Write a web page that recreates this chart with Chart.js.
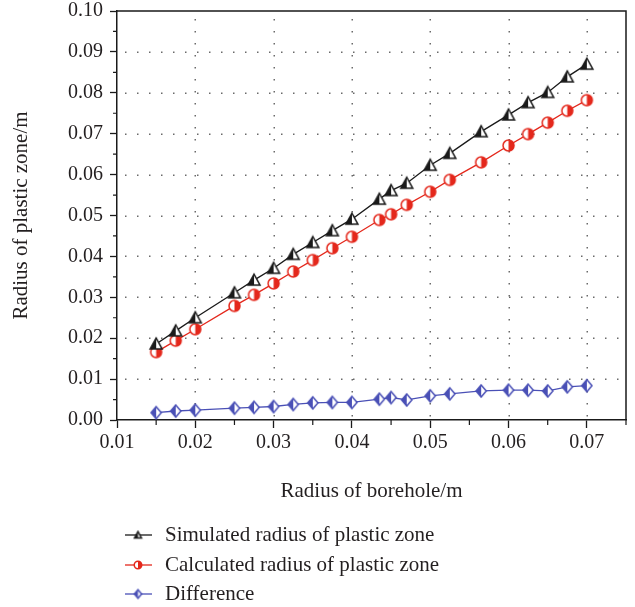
<!DOCTYPE html>
<html>
<head>
<meta charset="utf-8">
<script src="https://cdn.jsdelivr.net/npm/chart.js@4"></script>
<style>
  html, body { margin: 0; padding: 0; background: #fff; }
  #wrap { width: 635px; height: 607px; position: relative; }
</style>
</head>
<body>
<div id="wrap"><canvas id="c" width="635" height="607"></canvas></div>
<script>
// ---- data ----
const boreholeRadius = [0.015, 0.0175, 0.02, 0.025, 0.0275, 0.03, 0.0325, 0.035, 0.0375, 0.04,
  0.0435, 0.045, 0.047, 0.05, 0.0525, 0.0565, 0.06, 0.0625, 0.065, 0.0675, 0.07];
const simulatedRadius = [0.0186, 0.0218, 0.0250, 0.0311, 0.0342, 0.0371, 0.0405, 0.0434, 0.0463, 0.0491,
  0.0540, 0.0561, 0.0579, 0.0623, 0.0652, 0.0705, 0.0746, 0.0776, 0.0801, 0.0839, 0.0870];
const calculatedRadius = [0.0166, 0.0194, 0.0222, 0.0279, 0.0306, 0.0334, 0.0363, 0.0391, 0.0420, 0.0448,
  0.0489, 0.0503, 0.0526, 0.0558, 0.0587, 0.0630, 0.0671, 0.0699, 0.0727, 0.0756, 0.0782];
const differenceRadius = [0.0018, 0.0022, 0.0024, 0.0029, 0.0031, 0.0033, 0.0038, 0.0042, 0.0043, 0.0043,
  0.0051, 0.0055, 0.0049, 0.0059, 0.0064, 0.0071, 0.0073, 0.0073, 0.0071, 0.0081, 0.0084];
const seriesLabels = ['Simulated radius of plastic zone', 'Calculated radius of plastic zone', 'Difference'];
const xTickValues = [0.01, 0.02, 0.03, 0.04, 0.05, 0.06, 0.07];
const yTickValues = [0.00, 0.01, 0.02, 0.03, 0.04, 0.05, 0.06, 0.07, 0.08, 0.09, 0.10];
const xMinorTicks = [0.015, 0.025, 0.035, 0.045, 0.055, 0.065, 0.075];
const yMinorTicks = [0.005, 0.015, 0.025, 0.035, 0.045, 0.055, 0.065, 0.075, 0.085, 0.095];
const xGridValues = [0.02, 0.03, 0.04, 0.05, 0.06, 0.07];
const yGridValues = [0.01, 0.02, 0.03, 0.04, 0.05, 0.06, 0.07, 0.08, 0.09];
const xTitle = 'Radius of borehole/m';
const yTitle = 'Radius of plastic zone/m';

// ---- styles ----
const FONT = '"Liberation Serif", "DejaVu Serif", serif';
const COLORS = ['#1a1a1a', '#e4281c', '#4a50b6'];
const TEXT = '#231f20';

function makeMarker(shape, color, size, fillSide) {
  const s = Math.ceil(size + 4);
  const c = document.createElement('canvas');
  c.width = s; c.height = s;
  const ctx = c.getContext('2d');
  const cx = s / 2, cy = s / 2, r = size / 2;
  function path() {
    ctx.beginPath();
    if (shape === 'triangle') {
      ctx.moveTo(cx, cy - r);
      ctx.lineTo(cx + r, cy + r * 0.85);
      ctx.lineTo(cx - r, cy + r * 0.85);
      ctx.closePath();
    } else if (shape === 'circle') {
      ctx.arc(cx, cy, r, 0, Math.PI * 2);
    } else {
      ctx.moveTo(cx, cy - r);
      ctx.lineTo(cx + r * 0.85, cy);
      ctx.lineTo(cx, cy + r);
      ctx.lineTo(cx - r * 0.85, cy);
      ctx.closePath();
    }
  }
  path();
  ctx.fillStyle = '#fff';
  ctx.fill();
  ctx.save();
  ctx.beginPath();
  if (fillSide === 'left') ctx.rect(0, 0, cx, s); else ctx.rect(cx, 0, s - cx, s);
  ctx.clip();
  path();
  ctx.fillStyle = color;
  ctx.fill();
  ctx.restore();
  path();
  ctx.lineWidth = 1.5;
  ctx.strokeStyle = color;
  ctx.stroke();
  return c;
}

const markers = [
  makeMarker('triangle', COLORS[0], 12, 'left'),
  makeMarker('circle', COLORS[1], 11, 'right'),
  makeMarker('diamond', COLORS[2], 12, 'left')
];
const legendMarkers = [
  makeMarker('triangle', COLORS[0], 7, 'left'),
  makeMarker('circle', COLORS[1], 7.5, 'right'),
  makeMarker('diamond', COLORS[2], 8.5, 'left')
];

function pts(ys) { return boreholeRadius.map((x, i) => ({ x: x, y: ys[i] })); }

const seriesValues = [simulatedRadius, calculatedRadius, differenceRadius];
const datasets = seriesValues.map((ys, i) => ({
  label: seriesLabels[i],
  data: pts(ys),
  borderColor: COLORS[i],
  backgroundColor: COLORS[i],
  borderWidth: 1.3,
  pointStyle: markers[i],
  pointRadius: 5,
  pointHoverRadius: 5,
  tension: 0,
  clip: false
}));

const gridPlugin = {
  id: 'dotgrid',
  beforeDatasetsDraw(chart) {
    const { ctx, chartArea: a, scales } = chart;
    ctx.save();
    ctx.fillStyle = '#6a6a6a';
    const step = 12;
    yGridValues.forEach(v => {
      const py = Math.round(scales.y.getPixelForValue(v));
      for (let x = a.left + 8; x < a.right - 2; x += step) ctx.fillRect(x, py - 0.5, 1.5, 1.5);
    });
    xGridValues.forEach(v => {
      const px = Math.round(scales.x.getPixelForValue(v));
      for (let y = a.top + 8; y < a.bottom - 2; y += step) ctx.fillRect(px - 0.5, y, 1.5, 1.5);
    });
    ctx.restore();
  }
};

const framePlugin = {
  id: 'frame',
  afterDraw(chart) {
    const { ctx, chartArea: a, scales } = chart;
    const xs = scales.x, ys = scales.y;
    ctx.save();
    ctx.strokeStyle = '#1a1a1a';
    ctx.lineWidth = 1.5;
    ctx.beginPath();
    ctx.moveTo(a.left, a.top);
    ctx.lineTo(a.right, a.top);
    ctx.lineTo(a.right, a.bottom);
    ctx.stroke();
    ctx.lineWidth = 1.2;
    ctx.beginPath();
    xMinorTicks.forEach(v => {
      const px = xs.getPixelForValue(v);
      ctx.moveTo(px, a.bottom);
      ctx.lineTo(px, a.bottom + 5);
    });
    yMinorTicks.forEach(v => {
      const py = ys.getPixelForValue(v);
      ctx.moveTo(a.left, py);
      ctx.lineTo(a.left - 4, py);
    });
    ctx.stroke();

    // legend
    const rowY = [535, 565, 594];
    ctx.font = '21px ' + FONT;
    ctx.textBaseline = 'middle';
    ctx.textAlign = 'left';
    chart.data.datasets.forEach((ds, i) => {
      const y = rowY[i];
      ctx.strokeStyle = ds.borderColor;
      ctx.lineWidth = 1.3;
      ctx.beginPath();
      ctx.moveTo(125, y);
      ctx.lineTo(152, y);
      ctx.stroke();
      const m = legendMarkers[i];
      ctx.drawImage(m, 138 - m.width / 2, y - m.height / 2);
      ctx.fillStyle = TEXT;
      ctx.fillText(ds.label, 165, y);
    });
    ctx.restore();
  }
};

new Chart(document.getElementById('c'), {
  type: 'line',
  data: { datasets: datasets },
  options: {
    responsive: false,
    animation: false,
    events: [],
    layout: { padding: { left: 0, right: 9, top: 11, bottom: 97 } },
    plugins: { legend: { display: false }, tooltip: { enabled: false } },
    scales: {
      x: {
        type: 'linear',
        min: 0.01,
        max: 0.075,
        afterBuildTicks(scale) { scale.ticks = xTickValues.map(v => ({ value: v })); },
        afterFit(scale) { scale.height = 90; scale.paddingLeft = 0; scale.paddingRight = 0; },
        ticks: {
          color: TEXT,
          font: { family: FONT, size: 20 },
          padding: 3,
          maxRotation: 0,
          autoSkip: false,
          callback: v => Number(v).toFixed(2)
        },
        grid: {
          drawOnChartArea: false,
          drawTicks: true,
          tickLength: 8,
          tickColor: '#1a1a1a',
          tickWidth: 1.3
        },
        border: { display: true, color: '#1a1a1a', width: 1.5 },
        title: {
          display: true,
          text: xTitle,
          color: TEXT,
          font: { family: FONT, size: 21 },
          padding: { top: 0, bottom: 6 }
        }
      },
      y: {
        type: 'linear',
        min: 0,
        max: 0.1,
        afterBuildTicks(scale) { scale.ticks = yTickValues.map(v => ({ value: v })); },
        afterFit(scale) { scale.width = 117; scale.paddingTop = 0; scale.paddingBottom = 0; },
        ticks: {
          color: TEXT,
          font: { family: FONT, size: 20 },
          padding: 7,
          autoSkip: false,
          callback: v => Number(v).toFixed(2)
        },
        grid: {
          drawOnChartArea: false,
          drawTicks: true,
          tickLength: 7,
          tickColor: '#1a1a1a',
          tickWidth: 1.3
        },
        border: { display: true, color: '#1a1a1a', width: 1.5 },
        title: {
          display: true,
          text: yTitle,
          color: TEXT,
          font: { family: FONT, size: 21 },
          padding: { top: 9, bottom: 0 }
        }
      }
    }
  },
  plugins: [gridPlugin, framePlugin]
});
</script>
</body>
</html>
